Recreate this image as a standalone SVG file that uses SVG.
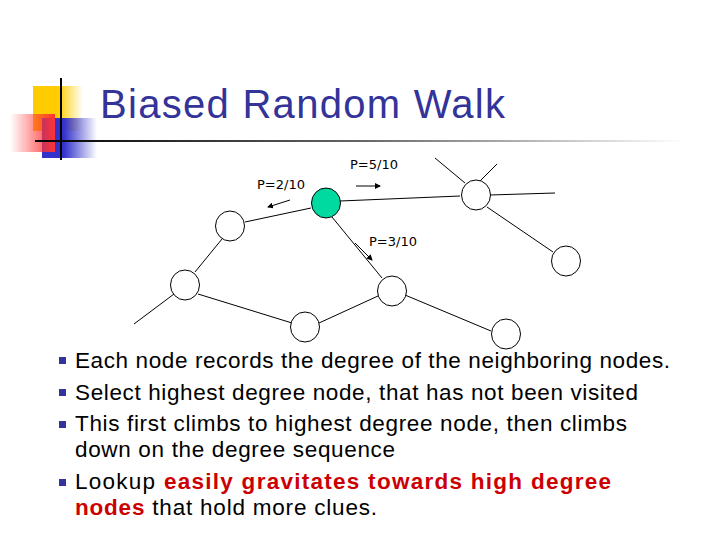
<svg xmlns="http://www.w3.org/2000/svg" width="720" height="540" viewBox="0 0 720 540">
<defs>
<linearGradient id="ln" x1="0" x2="1"><stop offset="0" stop-color="#000"/><stop offset="0.5" stop-color="#666"/><stop offset="1" stop-color="#fff"/></linearGradient>
<linearGradient id="yel" x1="0" x2="1"><stop offset="0.5" stop-color="#ffcc00"/><stop offset="1" stop-color="#ffcc00" stop-opacity="0"/></linearGradient>
<linearGradient id="blu" x1="0" x2="1"><stop offset="0.4" stop-color="#3333cc"/><stop offset="1" stop-color="#3333cc" stop-opacity="0"/></linearGradient>
<linearGradient id="red" x1="1" x2="0"><stop offset="0" stop-color="#ff3333"/><stop offset="1" stop-color="#ff3333" stop-opacity="0"/></linearGradient>
<marker id="ah" markerWidth="6" markerHeight="6" refX="5" refY="3" orient="auto"><path d="M0,0 L6,3 L0,6 z" fill="#000"/></marker>
<style>
.n{fill:#fff;stroke:#000;stroke-width:1}
.e{stroke:#000;stroke-width:1;fill:none}
.lb{font-family:"DejaVu Sans",sans-serif;font-size:13px;fill:#000}
.b{font-family:"Liberation Sans",Arial,sans-serif;font-size:22.5px;fill:#000}
.r{fill:#cc0000;font-weight:bold}
</style>
</defs>
<g id="logo">
<rect x="33" y="86" width="50" height="45" fill="url(#yel)"/>
<rect x="42" y="118" width="55" height="40" fill="url(#blu)"/>
<rect x="10" y="114" width="45" height="38" fill="url(#red)"/>
<line x1="61" y1="78" x2="61" y2="160" stroke="#000" stroke-width="2"/>
</g>
<rect x="35" y="140" width="650" height="2" fill="url(#ln)"/>
<text x="100" y="118" font-family="'Liberation Sans',Arial,sans-serif" font-size="40" fill="#333399" textLength="405">Biased Random Walk</text>
<g id="connectors">
<line class="e" x1="311" y1="208" x2="245" y2="222"/>
<line class="e" x1="340" y1="201" x2="460" y2="196"/>
<line class="e" x1="490" y1="195" x2="555" y2="193"/>
<line class="e" x1="465" y1="183" x2="435" y2="158"/>
<line class="e" x1="480" y1="181" x2="497" y2="164"/>
<line class="e" x1="487" y1="207" x2="553" y2="252"/>
<line class="e" x1="332" y1="217" x2="382" y2="278"/>
<line class="e" x1="222" y1="239" x2="195" y2="272"/>
<line class="e" x1="174" y1="294" x2="134" y2="324"/>
<line class="e" x1="198" y1="294" x2="292" y2="323"/>
<line class="e" x1="319" y1="323" x2="378" y2="296"/>
<line class="e" x1="405" y1="295" x2="491" y2="331"/>
<line class="e" x1="290" y1="200" x2="268" y2="207" marker-end="url(#ah)"/>
<line class="e" x1="356" y1="186" x2="380" y2="186" marker-end="url(#ah)"/>
<line class="e" x1="355" y1="243" x2="372" y2="260" marker-end="url(#ah)"/>
</g>
<g id="nodes">
<ellipse id="g" cx="326" cy="203" rx="14.5" ry="15" fill="#00d9a0" stroke="#000"/>
<ellipse id="n1" class="n" cx="230" cy="226" rx="14.5" ry="15"/>
<ellipse id="n2" class="n" cx="476" cy="195" rx="14.5" ry="15"/>
<ellipse id="n3" class="n" cx="566" cy="261" rx="14.5" ry="15"/>
<ellipse id="n4" class="n" cx="185" cy="285" rx="14.5" ry="15"/>
<ellipse id="n5" class="n" cx="392" cy="291" rx="14.5" ry="15"/>
<ellipse id="n6" class="n" cx="305" cy="327" rx="14.5" ry="15"/>
<ellipse id="n7" class="n" cx="506" cy="334" rx="14.5" ry="15"/>
</g>
<g id="labels">
<text class="lb" x="257" y="189">P=2/10</text>
<text class="lb" x="350" y="169">P=5/10</text>
<text class="lb" x="369" y="246">P=3/10</text>
</g>
<g id="bullets" fill="#333399">
<rect x="59" y="357" width="7" height="7"/>
<rect x="59" y="389" width="7" height="7"/>
<rect x="59" y="421" width="7" height="7"/>
<rect x="59" y="479" width="7" height="7"/>
</g>
<g id="text">
<text class="b" x="75" y="368" textLength="595">Each node records the degree of the neighboring nodes.</text>
<text class="b" x="75" y="400" textLength="563">Select highest degree node, that has not been visited</text>
<text class="b" x="75" y="431" textLength="552">This first climbs to highest degree node, then climbs</text>
<text class="b" x="75" y="457" textLength="320">down on the degree sequence</text>
<text class="b" x="75" y="489" textLength="536">Lookup <tspan class="r">easily gravitates towards high degree</tspan></text>
<text class="b" x="75" y="515" textLength="302"><tspan class="r">nodes</tspan> that hold more clues.</text>
</g>
</svg>
